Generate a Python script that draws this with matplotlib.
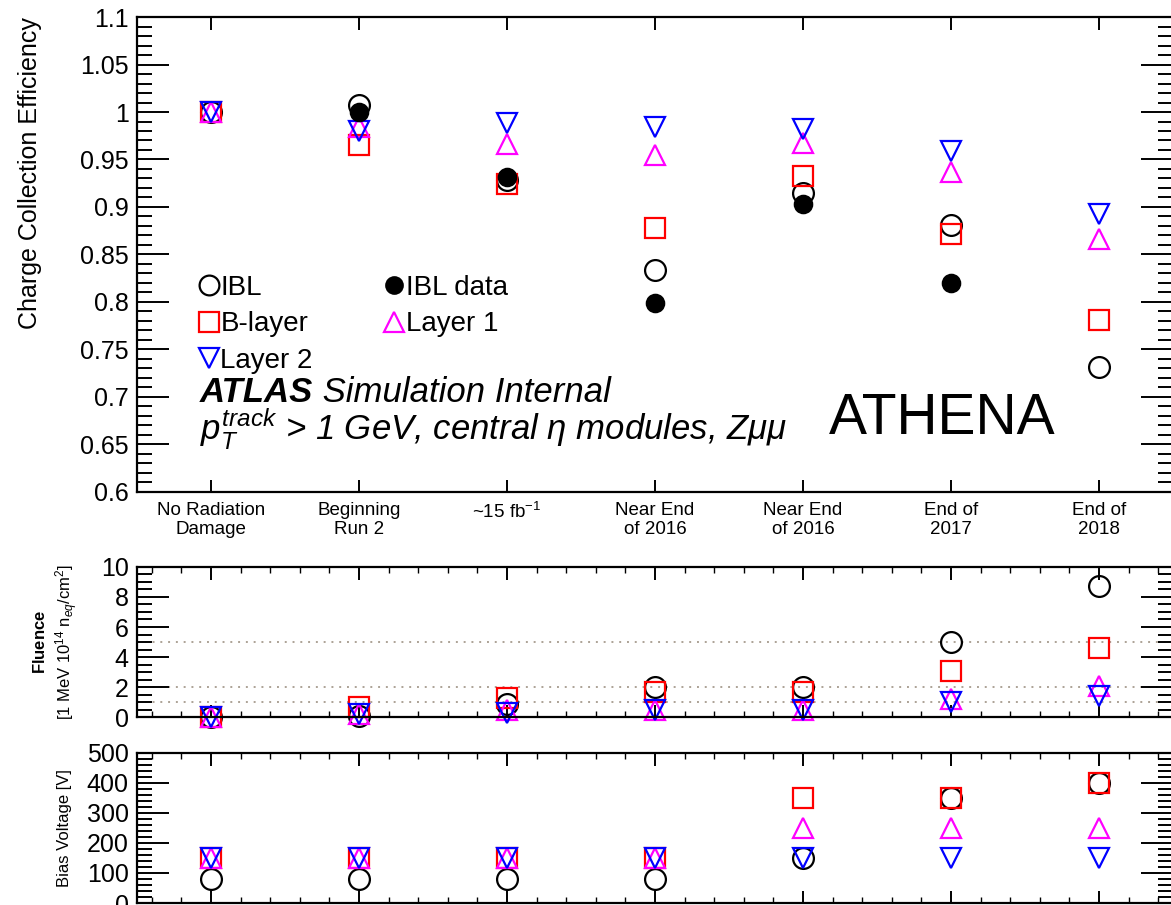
import matplotlib
matplotlib.use("Agg")
import matplotlib.pyplot as plt
from matplotlib.ticker import MultipleLocator, FuncFormatter
import numpy as np

plt.rcParams["font.family"] = ["Liberation Sans", "DejaVu Sans"]
plt.rcParams["mathtext.fontset"] = "custom"
plt.rcParams["mathtext.rm"] = "Liberation Sans"
plt.rcParams["mathtext.it"] = "Liberation Sans:italic"
plt.rcParams["mathtext.bf"] = "Liberation Sans:bold"

# irradiation steps
categories = ["No Radiation\nDamage", "Beginning\nRun 2", "~15 fb$^{-1}$",
              "Near End\nof 2016", "Near End\nof 2016", "End of\n2017", "End of\n2018"]

# charge collection efficiency
cce_ibl = [1.0, 1.007, 0.928, 0.834, 0.915, 0.881, 0.732]
cce_ibl_data = [np.nan, 1.0, 0.932, 0.799, 0.903, 0.820, np.nan]
cce_blayer = [1.0, 0.965, 0.924, 0.878, 0.933, 0.872, 0.781]
cce_layer1 = [1.0, 0.984, 0.966, 0.955, 0.967, 0.937, 0.866]
cce_layer2 = [1.0, 0.980, 0.988, 0.984, 0.982, 0.959, 0.893]

# fluence [1 MeV 1e14 neq/cm2]
flu_ibl = [0.0, 0.1, 0.9, 2.0, 2.0, 5.0, 8.7]
flu_blayer = [0.0, 0.7, 1.3, 1.7, 1.7, 3.1, 4.6]
flu_layer1 = [0.0, 0.2, 0.5, 0.5, 0.5, 1.2, 2.1]
flu_layer2 = [0.0, 0.2, 0.3, 0.5, 0.5, 1.0, 1.4]
flu_refs = [5, 2, 1]

# bias voltage [V]
bias_ibl = [80, 80, 80, 80, 150, 350, 400]
bias_blayer = [150, 150, 150, 150, 350, 350, 400]
bias_layer1 = [150, 150, 150, 150, 250, 250, 250]
bias_layer2 = [150, 150, 150, 150, 150, 150, 150]

x = np.arange(len(categories))

fig = plt.figure(figsize=(11.71, 9.05), dpi=100)
ax_top = fig.add_axes([0.117, 0.4564, 0.8847, 0.5248])
ax_flu = fig.add_axes([0.117, 0.2077, 0.8847, 0.1658])
ax_bias = fig.add_axes([0.117, 0.0022, 0.8847, 0.1658])

ms = 15
mew = 1.6
s_ibl = dict(ls="none", marker="o", ms=ms, mfc="none", mec="black", mew=mew, clip_on=False)
s_data = dict(ls="none", marker="o", ms=12.5, mfc="black", mec="black", mew=mew, clip_on=False)
s_blayer = dict(ls="none", marker="s", ms=ms - 0.5, mfc="none", mec="#ff0000", mew=mew, clip_on=False)
s_layer1 = dict(ls="none", marker="^", ms=ms, mfc="none", mec="#ff00ff", mew=mew, clip_on=False)
s_layer2 = dict(ls="none", marker="v", ms=ms, mfc="none", mec="#0000ff", mew=mew, clip_on=False)


def style_axis(ax, ymaj, ymin, xminor):
    for sp in ax.spines.values():
        sp.set_linewidth(1.6)
    ax.set_xlim(-0.5, 6.5)
    ax.xaxis.set_major_locator(MultipleLocator(1))
    if xminor:
        ax.xaxis.set_minor_locator(MultipleLocator(0.2))
    ax.yaxis.set_major_locator(MultipleLocator(ymaj))
    ax.yaxis.set_minor_locator(MultipleLocator(ymin))
    ax.yaxis.set_major_formatter(FuncFormatter(lambda v, p: "%g" % round(v, 4)))
    ax.tick_params(which="both", direction="in", top=True, right=True)
    ax.tick_params(axis="y", which="major", length=23, width=1.4, labelsize=18, pad=6)
    ax.tick_params(axis="y", which="minor", length=11, width=1.4)
    ax.tick_params(axis="x", which="major", length=9, width=1.4)
    ax.tick_params(axis="x", which="minor", length=4, width=1.0)


# charge collection efficiency panel
h_ibl, = ax_top.plot(x, cce_ibl, label="IBL", **s_ibl)
h_b, = ax_top.plot(x, cce_blayer, label="B-layer", **s_blayer)
h_l1, = ax_top.plot(x, cce_layer1, label="Layer 1", **s_layer1)
h_l2, = ax_top.plot(x, cce_layer2, label="Layer 2", **s_layer2)
h_data, = ax_top.plot(x, cce_ibl_data, label="IBL data", **s_data)
style_axis(ax_top, 0.05, 0.01, False)
ax_top.set_ylim(0.6, 1.1)
ax_top.set_xticks(x)
ax_top.set_xticklabels(categories, fontsize=13.5, linespacing=1.15)
ax_top.tick_params(axis="x", pad=7)
ax_top.set_ylabel("Charge Collection Efficiency", fontsize=18, loc="top")
ax_top.yaxis.set_label_coords(-0.092, 1.0)

ax_top.legend(handles=[h_ibl, h_b, h_l2, h_data, h_l1], ncol=2, loc="upper left",
              bbox_to_anchor=(0.059, 0.457), frameon=False, fontsize=20,
              handlelength=0.75, handletextpad=0.05, columnspacing=2.55,
              labelspacing=0.38, borderpad=0, borderaxespad=0, numpoints=1,
              markerscale=0.95)

atlas = ax_top.text(0.061, 0.189, "ATLAS", transform=ax_top.transAxes,
                    fontsize=25, fontweight="bold", style="italic")
ax_top.annotate(" Simulation Internal", xy=(1, 0), xycoords=atlas, va="bottom",
                fontsize=25, style="italic")
ax_top.text(0.061, 0.11, r"$p_{T}^{track}$ > 1 GeV, central $\eta$ modules, Z$\mu\mu$",
            transform=ax_top.transAxes, fontsize=25, style="italic")
ax_top.text(0.668, 0.122, "ATHENA", transform=ax_top.transAxes, fontsize=41)

# fluence panel
for v in flu_refs:
    ax_flu.axhline(v, color="#aca296", ls=(0, (1, 3)), lw=1.4, zorder=0)
ax_flu.plot(x, flu_ibl, **s_ibl)
ax_flu.plot(x, flu_blayer, **s_blayer)
ax_flu.plot(x, flu_layer1, **s_layer1)
ax_flu.plot(x, flu_layer2, **s_layer2)
style_axis(ax_flu, 2, 0.5, True)
ax_flu.set_ylim(0, 10)
ax_flu.tick_params(axis="x", labelbottom=False)
ax_flu.set_ylabel("$\\mathbf{Fluence}$\n[1 MeV 10$^{14}$ n$_{eq}$/cm$^{2}$]",
                  fontsize=12, linespacing=1.3)
ax_flu.yaxis.set_label_coords(-0.055, 0.5)

# bias voltage panel
ax_bias.plot(x, bias_ibl, **s_ibl)
ax_bias.plot(x, bias_blayer, **s_blayer)
ax_bias.plot(x, bias_layer1, **s_layer1)
ax_bias.plot(x, bias_layer2, **s_layer2)
style_axis(ax_bias, 100, 20, True)
ax_bias.set_ylim(0, 500)
ax_bias.tick_params(axis="x", labelbottom=False)
ax_bias.set_ylabel("Bias Voltage [V]", fontsize=12)
ax_bias.yaxis.set_label_coords(-0.063, 0.5)

fig.savefig("out.png", dpi=100)
